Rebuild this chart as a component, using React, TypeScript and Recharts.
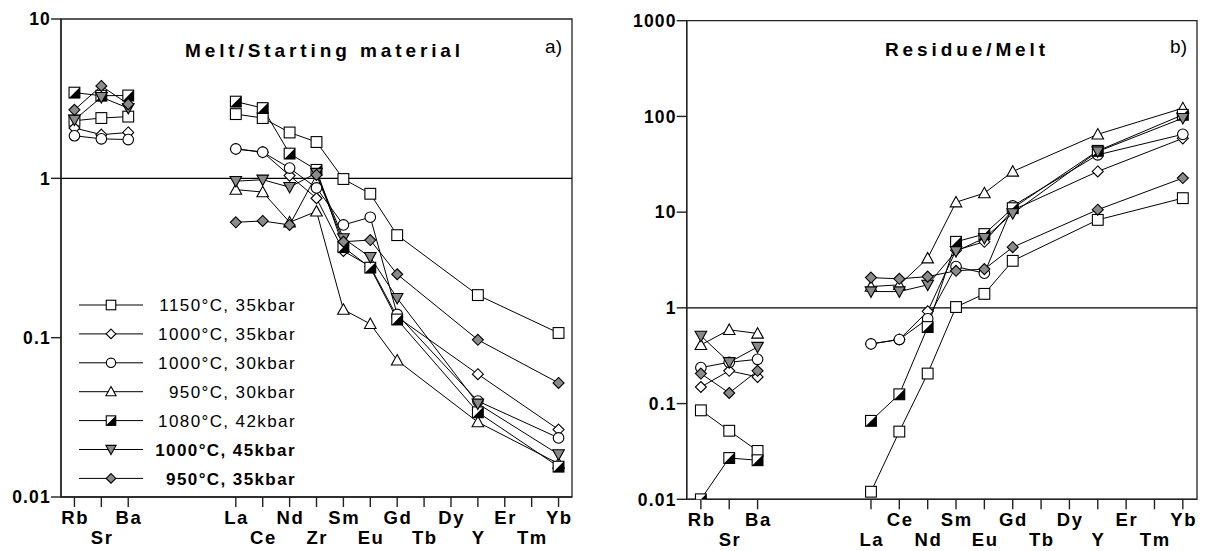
import type { JSX } from 'react';
import { Line, LineChart, ReferenceArea, ReferenceLine, XAxis, YAxis } from 'recharts';

const FONT = '"Liberation Sans", Arial, Helvetica, sans-serif';
const GRAY = '#8a8a8a';

// experiment labels (legend)
const runs = [
  '1150°C, 35kbar',
  '1000°C, 35kbar',
  '1000°C, 30kbar',
  '950°C, 30kbar',
  '1080°C, 42kbar',
  '1000°C, 45kbar',
  '950°C, 35kbar',
];
const boldRuns = [false, false, false, false, false, true, true];
const markers = ['square', 'diamond', 'circle', 'triangle', 'half', 'tridown', 'graydiamond'];

// a) Melt / Starting material
const leftTicks = ['Rb', 'Sr', 'Ba', 'La', 'Ce', 'Nd', 'Zr', 'Sm', 'Eu', 'Gd', 'Tb', 'Dy', 'Y', 'Er', 'Tm', 'Yb'];
const leftTickPos = [0, 1, 2, 6, 7, 8, 9, 10, 11, 12, 13, 14, 15, 16, 17, 18];
const leftTickRow = [0, 1, 0, 0, 1, 0, 1, 0, 1, 0, 1, 0, 1, 0, 1, 0];
const leftMeasured = ['Rb', 'Sr', 'Ba', 'La', 'Ce', 'Nd', 'Zr', 'Sm', 'Eu', 'Gd', 'Y', 'Yb'];
const leftYTicks = [0.01, 0.1, 1, 10];

const melt1150_35 = [2.3, 2.39, 2.44, 2.53, 2.39, 1.94, 1.69, 0.99, 0.8, 0.44, 0.185, 0.107];
const melt1000_35 = [2.07, 1.88, 1.94, 1.53, 1.46, 1.04, 0.75, 0.35, 0.28, 0.135, 0.059, 0.0265];
const melt1000_30 = [1.85, 1.77, 1.75, 1.53, 1.46, 1.16, 0.87, 0.51, 0.57, 0.14, 0.04, 0.0235];
const melt950_30 = [null, null, null, 0.85, 0.82, 0.53, 0.62, 0.15, 0.122, 0.072, 0.0295, 0.0162];
const melt1080_42 = [3.45, 3.3, 3.31, 3.03, 2.76, 1.43, 1.13, 0.37, 0.275, 0.13, 0.034, 0.0155];
const melt1000_45 = [2.33, 3.23, 2.76, 0.96, 0.98, 0.88, 1.08, 0.42, 0.32, 0.177, 0.0385, 0.0185];
const melt950_35 = [2.69, 3.8, 2.92, 0.53, 0.54, 0.51, 1.05, 0.4, 0.41, 0.25, 0.097, 0.052];

// b) Residue / Melt
const rightTicks = ['Rb', 'Sr', 'Ba', 'La', 'Ce', 'Nd', 'Sm', 'Eu', 'Gd', 'Tb', 'Dy', 'Y', 'Er', 'Tm', 'Yb'];
const rightTickPos = [0, 1, 2, 6, 7, 8, 9, 10, 11, 12, 13, 14, 15, 16, 17];
const rightTickRow = [0, 1, 0, 1, 0, 1, 0, 1, 0, 1, 0, 1, 0, 1, 0];
const rightMeasured = ['Rb', 'Sr', 'Ba', 'La', 'Ce', 'Nd', 'Sm', 'Eu', 'Gd', 'Y', 'Yb'];
const rightYTicks = [0.01, 0.1, 1, 10, 100, 1000];

const res1150_35 = [0.085, 0.052, 0.032, 0.012, 0.051, 0.206, 1.02, 1.4, 3.1, 8.3, 14];
const res1000_35 = [0.149, 0.22, 0.19, 0.42, 0.467, 0.92, 4.0, 4.9, 10.5, 26.6, 59];
const res1000_30 = [0.238, 0.27, 0.29, 0.42, 0.467, 0.77, 2.7, 2.3, 11.6, 39.7, 65];
const res950_30 = [0.41, 0.59, 0.54, 1.67, 1.74, 3.3, 12.7, 15.8, 26.6, 65, 122];
const res1080_42 = [0.01, 0.027, 0.0256, 0.066, 0.125, 0.63, 4.9, 5.9, 11, 43.7, 104];
const res1000_45 = [0.51, 0.27, 0.39, 1.48, 1.48, 1.74, 3.9, 5.35, 9.7, 43, 96];
const res950_35 = [0.206, 0.129, 0.22, 2.07, 2.01, 2.12, 2.44, 2.54, 4.3, 10.6, 22.7];

const leftSeries = [melt1150_35, melt1000_35, melt1000_30, melt950_30, melt1080_42, melt1000_45, melt950_35];
const rightSeries = [res1150_35, res1000_35, res1000_30, res950_30, res1080_42, res1000_45, res950_35];

type Row = Record<string, number | null>;

function buildRows(ticks: string[], pos: number[], measured: string[], series: (number | null)[][]): Row[] {
  const rows: Row[] = measured.map((el, i) => {
    const row: Row = { x: pos[ticks.indexOf(el)] };
    series.forEach((s, k) => (row['s' + k] = s[i]));
    return row;
  });
  // empty row so the lines break between Ba and La
  const gap: Row = { x: 4 };
  series.forEach((_, k) => (gap['s' + k] = null));
  rows.splice(3, 0, gap);
  return rows;
}

const leftData = buildRows(leftTicks, leftTickPos, leftMeasured, leftSeries);
const rightData = buildRows(rightTicks, rightTickPos, rightMeasured, rightSeries);

function Marker({ kind, cx, cy, k = 1 }: { kind: string; cx: number; cy: number; k?: number }): JSX.Element {
  const s = 10.8 * k;
  const st = { stroke: '#000', strokeWidth: 1.1 };
  switch (kind) {
    case 'square':
      return <rect x={cx - s / 2} y={cy - s / 2} width={s} height={s} fill="#fff" {...st} />;
    case 'half':
      return (
        <g>
          <rect x={cx - s / 2} y={cy - s / 2} width={s} height={s} fill="#fff" />
          <polygon points={`${cx + s / 2},${cy - s / 2} ${cx + s / 2},${cy + s / 2} ${cx - s / 2},${cy + s / 2}`} fill="#000" />
          <rect x={cx - s / 2} y={cy - s / 2} width={s} height={s} fill="none" {...st} />
        </g>
      );
    case 'diamond':
    case 'graydiamond': {
      const d = 5.5 * k;
      return (
        <polygon
          points={`${cx},${cy - d} ${cx + d},${cy} ${cx},${cy + d} ${cx - d},${cy}`}
          fill={kind === 'diamond' ? '#fff' : GRAY}
          {...st}
        />
      );
    }
    case 'circle':
      return <circle cx={cx} cy={cy} r={5.3 * k} fill="#fff" {...st} />;
    case 'triangle': {
      const w = 5.8 * k;
      return <polygon points={`${cx},${cy - w} ${cx + w},${cy + w * 0.8} ${cx - w},${cy + w * 0.8}`} fill="#fff" {...st} />;
    }
    case 'tridown': {
      const w = 5.8 * k;
      return <polygon points={`${cx},${cy + w} ${cx + w},${cy - w * 0.8} ${cx - w},${cy - w * 0.8}`} fill={GRAY} {...st} />;
    }
  }
  return <g />;
}

function makeDot(kind: string) {
  return (p: any) => {
    if (p.value == null || p.cx == null || p.cy == null) return <g key={p.index} />;
    return (
      <g key={p.index}>
        <Marker kind={kind} cx={p.cx} cy={p.cy} />
      </g>
    );
  };
}

function makeXTick(labels: string[], pos: number[], rows: number[]) {
  return (p: any) => {
    const i = pos.indexOf(p.payload.value);
    if (i < 0) return <g />;
    return (
      <text
        x={p.x + 0.8}
        y={p.y + (rows[i] ? 36.5 : 16.5)}
        textAnchor="middle"
        fontFamily={FONT}
        fontSize={18.5}
        fontWeight="bold"
        fill="#000"
        style={{ letterSpacing: 1.6 }}
      >
        {labels[i]}
      </text>
    );
  };
}

function RunsLegend() {
  return (
    <g transform="translate(70,290)">
      {runs.map((r, i) => {
        const y = 15 + i * 28.9;
        return (
          <g key={r}>
            <line x1={9} x2={73} y1={y} y2={y} stroke="#000" strokeWidth={1} />
            <Marker kind={markers[i]} cx={41} cy={y} k={0.88} />
            <text
              x={226}
              y={y}
              dy="0.36em"
              textAnchor="end"
              fontFamily={FONT}
              fontSize={17}
              fontWeight={boldRuns[i] ? 'bold' : 'normal'}
              fill="#000"
              style={{ letterSpacing: 1.4 }}
            >
              {r}
            </text>
          </g>
        );
      })}
    </g>
  );
}

const axisStroke = { stroke: '#222', strokeWidth: 1.4 };
const yTickStyle = { fill: '#000', fontSize: 17.5, fontWeight: 'bold', fontFamily: FONT, letterSpacing: 1.2 };

export default function App() {
  return (
    <div style={{ position: 'absolute', left: 0, top: 0, width: 1206, height: 551, background: '#fff' }}>
      <div style={{ position: 'absolute', left: 0, top: 0 }}>
        <LineChart width={600} height={551} data={leftData} margin={{ top: 19, right: 28, bottom: 14, left: 6 }}>
          <XAxis
            dataKey="x"
            type="number"
            domain={[-0.5, 18.5]}
            ticks={leftTickPos}
            interval={0}
            allowDataOverflow
            height={40}
            tickSize={10}
            tickMargin={0}
            axisLine={axisStroke}
            tickLine={axisStroke}
            tick={makeXTick(leftTicks, leftTickPos, leftTickRow)}
          />
          <YAxis
            scale="log"
            type="number"
            domain={[0.01, 10]}
            ticks={leftYTicks}
            interval={0}
            allowDataOverflow
            width={55}
            tickSize={10}
            tickMargin={0}
            axisLine={axisStroke}
            tickLine={axisStroke}
            tick={yTickStyle}
            tickFormatter={v => String(v)}
          />
          <ReferenceArea x1={-0.5} x2={18.5} y1={0.01} y2={10} fill="none" stroke="#222" strokeWidth={1.3} ifOverflow="visible" />
          <ReferenceLine y={1} stroke="#000" strokeWidth={1.2} />
          {runs.map((r, k) => (
            <Line
              key={r}
              name={r}
              dataKey={'s' + k}
              stroke="#000"
              strokeWidth={1}
              dot={makeDot(markers[k])}
              activeDot={false}
              connectNulls={false}
              isAnimationActive={false}
            />
          ))}
        </LineChart>
      </div>

      <div style={{ position: 'absolute', left: 600, top: 0 }}>
        <LineChart width={606} height={551} data={rightData} margin={{ top: 20.7, right: 9, bottom: 11.7, left: 16.7 }}>
          <XAxis
            dataKey="x"
            type="number"
            domain={[-0.5, 17.5]}
            ticks={rightTickPos}
            interval={0}
            allowDataOverflow
            height={40}
            tickSize={10}
            tickMargin={0}
            axisLine={axisStroke}
            tickLine={axisStroke}
            tick={makeXTick(rightTicks, rightTickPos, rightTickRow)}
          />
          <YAxis
            scale="log"
            type="number"
            domain={[0.01, 1000]}
            ticks={rightYTicks}
            interval={0}
            allowDataOverflow
            width={70}
            tickSize={10}
            tickMargin={0}
            axisLine={axisStroke}
            tickLine={axisStroke}
            tick={yTickStyle}
            tickFormatter={v => String(v)}
          />
          <ReferenceArea x1={-0.5} x2={17.5} y1={0.01} y2={1000} fill="none" stroke="#222" strokeWidth={1.3} ifOverflow="visible" />
          <ReferenceLine y={1} stroke="#000" strokeWidth={1.2} />
          {runs.map((r, k) => (
            <Line
              key={r}
              name={r}
              dataKey={'s' + k}
              stroke="#000"
              strokeWidth={1}
              dot={makeDot(markers[k])}
              activeDot={false}
              connectNulls={false}
              isAnimationActive={false}
            />
          ))}
        </LineChart>
      </div>

      <svg width={1206} height={551} style={{ position: 'absolute', left: 0, top: 0, pointerEvents: 'none' }}>
        <text x={185} y={56.7} fontFamily={FONT} fontSize={19} fontWeight="bold" style={{ letterSpacing: 3.9 }}>
          Melt/Starting material
        </text>
        <text x={562} y={53.3} textAnchor="end" fontFamily={FONT} fontSize={19}>
          a)
        </text>
        <text x={885} y={55.5} fontFamily={FONT} fontSize={19} fontWeight="bold" style={{ letterSpacing: 3.9 }}>
          Residue/Melt
        </text>
        <text x={1187} y={53.3} textAnchor="end" fontFamily={FONT} fontSize={19}>
          b)
        </text>
        <RunsLegend />
      </svg>
    </div>
  );
}
